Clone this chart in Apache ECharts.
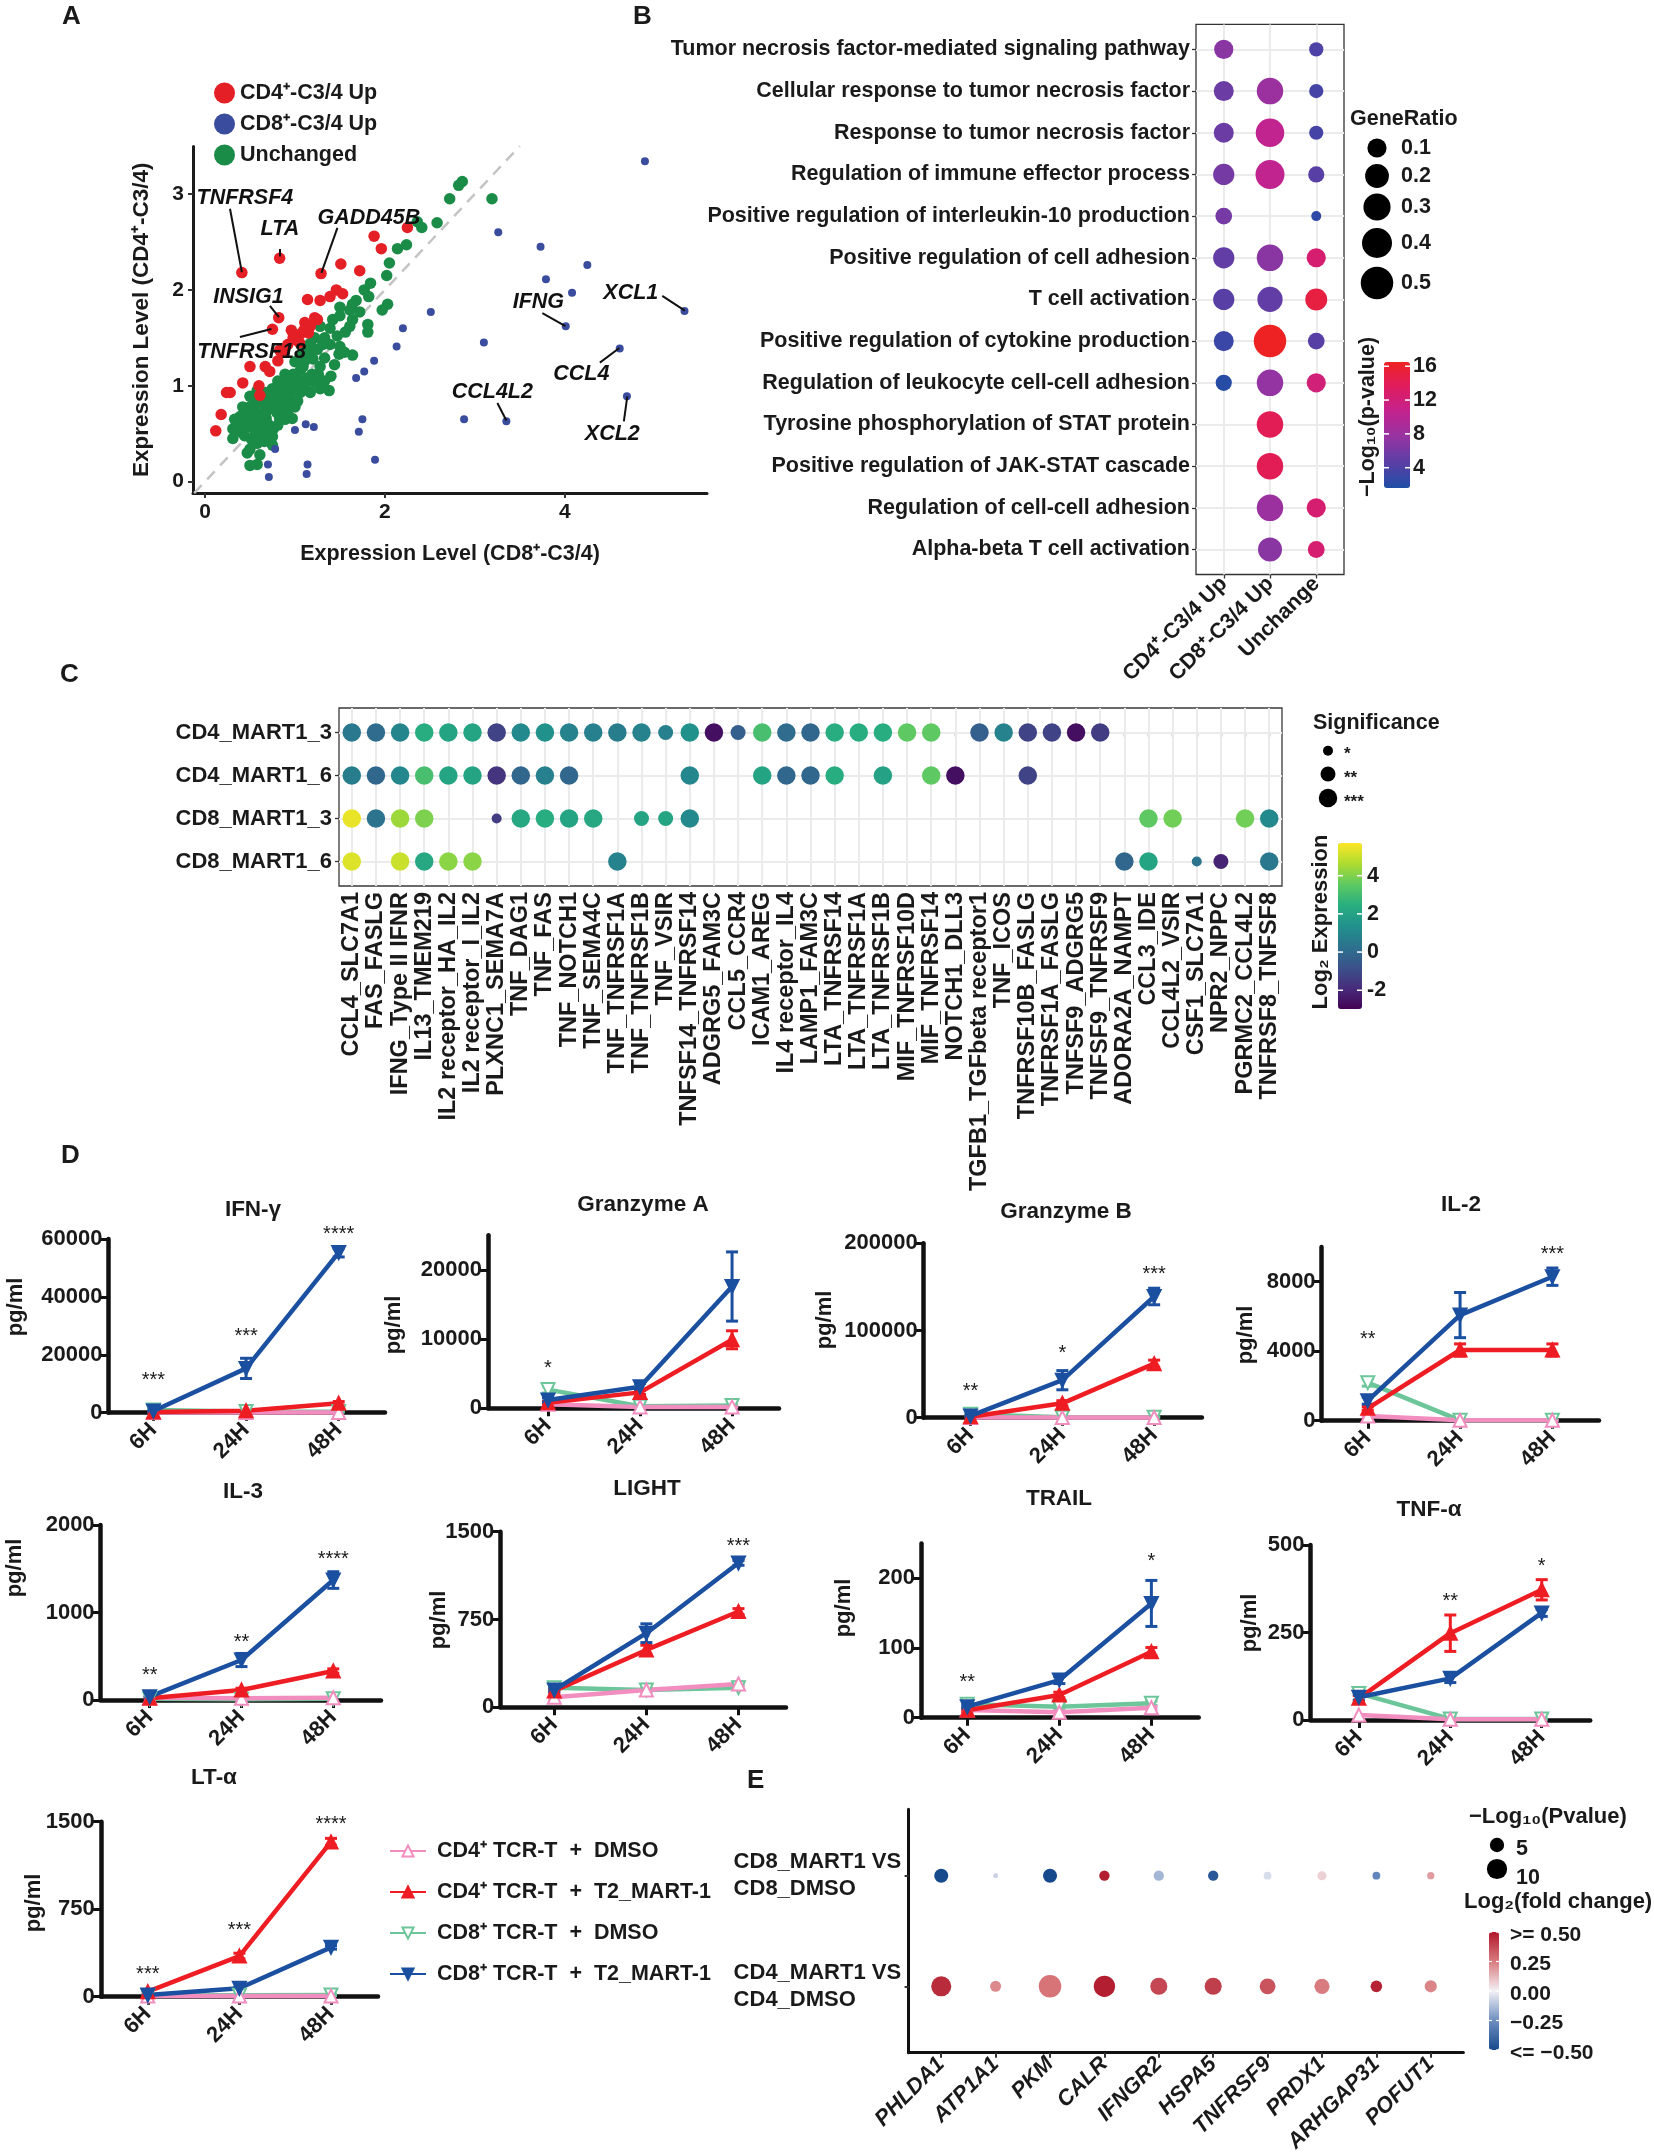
<!DOCTYPE html>
<html>
<head>
<meta charset="utf-8">
<title>TCR-T figure</title>
<script src="https://cdn.jsdelivr.net/npm/echarts@6.0.0/dist/echarts.min.js"></script>
<style>
  html, body { margin: 0; padding: 0; background: #fff; }
  #fig { width: 1654px; height: 2156px; }
</style>
</head>
<body>
<div id="fig"></div>
<script>
// ---------- A : CD8 vs CD4 expression ----------
const aGroups = ['CD4⁺-C3/4 Up', 'CD8⁺-C3/4 Up', 'Unchanged'];
const cd4UpPts = [[0.41,2.18],[0.83,2.33],[1.29,2.17],[2.25,2.65],[1.88,2.56],[1.96,2.43],[1.51,2.27],[1.72,2.20],
  [1.46,2.00],[1.53,1.96],[1.39,1.93],[1.28,1.89],[1.14,1.90],[0.82,1.71],[0.75,1.59],[0.96,1.58],[1.25,1.69],
  [1.17,1.62],[1.06,1.54],[1.00,1.48],[0.92,1.43],[0.83,1.37],[0.81,1.26],[0.50,1.20],[0.42,1.03],[0.60,1.00],
  [0.28,0.93],[0.24,0.93],[0.18,0.70],[0.12,0.53],[0.61,0.90],[0.67,1.20],[1.11,1.66],[1.22,1.71],[1.10,1.58],
  [0.98,1.50],[1.05,1.45],[0.88,1.35],[1.15,1.55],[0.72,1.15]];
const cd8UpPts = [[4.89,3.34],[3.26,2.60],[3.73,2.45],[4.25,2.26],[3.79,2.11],[4.08,1.97],[5.33,1.78],[2.51,1.77],
  [4.01,1.62],[2.20,1.60],[3.10,1.45],[2.13,1.41],[4.61,1.39],[1.88,1.26],[1.77,1.15],[1.68,1.08],[4.69,0.89],
  [2.88,0.65],[3.35,0.63],[1.75,0.65],[1.71,0.52],[1.12,0.60],[1.21,0.57],[1.00,0.54],[0.78,0.34],[1.89,0.23],
  [0.70,0.18],[1.14,0.18],[0.71,0.05],[1.13,0.08]];
const unchangedPts = [[2.86,3.13],[2.82,3.09],[2.72,2.95],[3.19,2.95],[2.58,2.70],[2.41,2.65],[2.36,2.71],[2.24,2.47],
  [2.14,2.43],[2.05,2.28],[2.02,2.15],[1.84,2.07],[1.77,2.00],[2.03,1.85],[1.97,1.79],[1.82,1.93],[1.68,1.89],
  [1.64,1.85],[1.50,1.82],[1.50,1.73],[1.81,1.64],[1.81,1.56],[1.64,1.69],[1.61,1.62],[1.56,1.56],[1.47,1.52],
  [1.28,1.62],[1.39,1.60],[1.31,1.43],[1.50,1.41],[1.49,1.33],[1.64,1.32],[1.33,1.29],[1.22,1.50],[1.17,1.35],
  [1.11,1.26],[1.28,1.20],[1.19,1.12],[1.06,1.16],[1.00,1.08],[1.38,0.95],[0.97,1.01],[0.89,1.12],[0.81,1.05],
  [0.75,0.97],[0.67,0.93],[0.61,0.85],[0.56,0.82],[0.50,0.78],[0.44,0.74],[0.39,0.68],[0.33,0.65],[0.31,0.55],
  [0.31,0.45],[0.44,0.63],[0.53,0.66],[0.61,0.70],[0.69,0.74],[0.78,0.80],[0.86,0.84],[0.94,0.87],[1.00,0.78],
  [0.97,0.66],[0.89,0.65],[0.81,0.59],[0.72,0.55],[0.64,0.53],[0.56,0.51],[0.47,0.57],[0.39,0.59],[0.75,0.47],
  [0.75,0.38],[0.61,0.45],[0.50,0.34],[0.47,0.30],[0.61,0.28],[0.50,0.17],[0.58,0.18],[0.83,0.66],[0.92,0.74],
  [0.83,0.89],[0.72,0.85],[0.64,0.82],[0.56,0.74],[0.50,0.68],[0.42,0.78],[0.50,0.89],[1.17,0.93],[1.11,1.01],
  [1.22,1.03],[1.28,0.97],[1.06,0.93],[0.86,0.93],[0.92,0.97],[0.83,0.97],[0.75,0.91],[1.03,0.84],[1.09,1.20],
  [1.14,1.08],[1.33,1.50],[1.17,1.44],[1.39,1.43],[1.61,1.79],[1.72,1.77],[1.42,1.69],[0.55,0.60],[0.62,0.62],
  [0.68,0.66],[0.70,0.60],[0.58,0.56],[0.66,0.72],[0.74,0.78],[0.80,0.72],[0.86,0.76],[0.90,0.82],[0.95,0.92],
  [1.02,0.98],[1.05,1.05],[0.98,1.12],[0.92,1.05],[0.86,1.00],[0.78,0.95],[0.70,0.88],[0.64,0.90],[0.58,0.95],
  [0.52,0.72],[0.46,0.68],[0.40,0.52],[0.36,0.60],[0.44,0.48],[0.52,0.44],[0.58,0.40],[0.66,0.42],[0.70,0.48],
  [0.76,0.55],[1.00,1.25],[1.08,1.32],[1.12,1.40],[1.25,1.38],[1.20,1.28],[1.26,1.12],[1.33,1.05],[1.44,1.22],
  [1.55,1.35],[1.40,1.10]];
// gene, point x, point y, leader start x, y, text x, y
const geneLabels = [
  ['TNFRSF4', 0.41, 2.185, 0.278, 2.846, 0.444, 2.96],
  ['LTA', 0.833, 2.349, 0.833, 2.425, 0.833, 2.636],
  ['GADD45B', 1.294, 2.177, 1.472, 2.647, 1.822, 2.75],
  ['INSIG1', 0.822, 1.715, 0.722, 1.833, 0.483, 1.921],
  ['TNFRSF18', 0.739, 1.593, 0.389, 1.509, 0.517, 1.348],
  ['IFNG', 4.006, 1.623, 3.75, 1.757, 3.706, 1.872],
  ['XCL1', 5.333, 1.784, 5.083, 1.937, 4.733, 1.967],
  ['CCL4', 4.606, 1.394, 4.389, 1.241, 4.183, 1.119],
  ['CCL4L2', 3.35, 0.638, 3.25, 0.821, 3.194, 0.936],
  ['XCL2', 4.694, 0.89, 4.656, 0.63, 4.528, 0.497]
];

// ---------- B : GO enrichment ----------
const goTerms = ['Tumor necrosis factor-mediated signaling pathway', 'Cellular response to tumor necrosis factor',
  'Response to tumor necrosis factor', 'Regulation of immune effector process',
  'Positive regulation of interleukin-10 production', 'Positive regulation of cell adhesion', 'T cell activation',
  'Positive regulation of cytokine production', 'Regulation of leukocyte cell-cell adhesion',
  'Tyrosine phosphorylation of STAT protein', 'Positive regulation of JAK-STAT cascade',
  'Regulation of cell-cell adhesion', 'Alpha-beta T cell activation'];
const goGroups = ['CD4⁺-C3/4 Up', 'CD8⁺-C3/4 Up', 'Unchange'];
const goRatio = [[0.10,null,0.037],[0.115,0.278,0.037],[0.115,0.344,0.037],[0.14,0.36,0.056],[0.064,null,0.02],
  [0.14,0.278,0.10],[0.14,0.24,0.155],[0.115,0.50,0.064],[0.056,0.278,0.10],[null,0.278,null],[null,0.278,null],
  [null,0.278,0.10],[null,0.206,0.064]];
const goLogP = [[7,null,4],[5.5,8,3.5],[5.5,10.5,3.5],[6,10.5,4.5],[6,null,2.5],[5,7,12.5],[4.5,5,15],
  [3,16.5,4.5],[2,7.5,12],[null,14,null],[null,14,null],[null,8,12.5],[null,7,12.5]];
const goRatioKeys = [0.1, 0.2, 0.3, 0.4, 0.5];
const goPTicks = [16, 12, 8, 4];

// ---------- C : ligand-receptor pairs ----------
const lrPairs = ['CCL4_SLC7A1','FAS_FASLG','IFNG_Type II IFNR','IL13_TMEM219','IL2 receptor_HA_IL2',
  'IL2 receptor_I_IL2','PLXNC1_SEMA7A','TNF_DAG1','TNF_FAS','TNF_NOTCH1','TNF_SEMA4C','TNF_TNFRSF1A',
  'TNF_TNFRSF1B','TNF_VSIR','TNFSF14_TNFRSF14','ADGRG5_FAM3C','CCL5_CCR4','ICAM1_AREG','IL4 receptor_IL4',
  'LAMP1_FAM3C','LTA_TNFRSF14','LTA_TNFRSF1A','LTA_TNFRSF1B','MIF_TNFRSF10D','MIF_TNFRSF14','NOTCH1_DLL3',
  'TGFB1_TGFbeta receptor1','TNF_ICOS','TNFRSF10B_FASLG','TNFRSF1A_FASLG','TNFSF9_ADGRG5','TNFSF9_TNFRSF9',
  'ADORA2A_NAMPT','CCL3_IDE','CCL4L2_VSIR','CSF1_SLC7A1','NPR2_NPPC','PGRMC2_CCL4L2','TNFRSF8_TNFSF8'];
const lrSamples = ['CD4_MART1_3','CD4_MART1_6','CD8_MART1_3','CD8_MART1_6'];
const lrExpr = [
  [0.50,0.06,0.93,2.41,2.06,2.06,-1.24,1.10,1.37,0.84,0.76,0.67,0.84,0.76,1.37,-2.63,-0.37,3.10,0.06,-0.11,
   2.41,2.41,2.41,3.54,3.54,null,-0.37,0.84,-1.24,-1.24,-2.63,-1.42,null,null,null,null,null,null,null],
  [0.67,-0.11,1.02,3.10,2.06,2.06,-1.68,-0.11,0.76,-0.11,null,null,null,null,1.02,null,null,2.06,-0.11,-0.11,
   2.41,null,1.97,null,3.54,-2.63,null,null,-1.24,null,null,null,null,null,null,null,null,null,null],
  [5.45,0.32,4.41,3.97,null,null,-1.42,2.23,2.41,2.06,2.23,null,2.06,2.06,1.10,null,null,null,null,null,
   null,null,null,null,null,null,null,null,null,null,null,null,null,3.54,3.80,null,null,3.80,1.10],
  [5.28,null,5.00,2.23,4.15,4.15,null,null,null,null,null,0.84,null,null,null,null,null,null,null,null,
   null,null,null,null,null,null,null,null,null,null,null,null,-0.11,2.06,null,0.32,-2.11,null,0.50]
];
// [sample row, pair col, level] where significance is below ***
const lrSigLow = [[0,13,2],[0,16,2],[2,6,1],[2,12,2],[2,13,2],[3,35,1],[3,36,2]];
const lrSigNames = ['*', '**', '***'];
const lrExprTicks = [4, 2, 0, -2];

// ---------- D : cytokines ----------
const timePoints = ['6H', '24H', '48H'];
const groupNames = ['CD4⁺ TCR-T  +  DMSO', 'CD4⁺ TCR-T  +  T2_MART-1', 'CD8⁺ TCR-T  +  DMSO', 'CD8⁺ TCR-T  +  T2_MART-1'];
const cytokines = ['IFN-γ', 'Granzyme A', 'Granzyme B', 'IL-2', 'IL-3', 'LIGHT', 'TRAIL', 'TNF-α', 'LT-α'];
// rows: CD4 DMSO, CD4 MART-1, CD8 DMSO, CD8 MART-1 ; cols: 6H, 24H, 48H
const ifngMean = [[100,50,50],[200,700,3250],[900,400,300],[600,15300,55300]];
const ifngErr  = [[0,0,0],[100,150,600],[400,100,100],[300,3500,1500]];
const ifngStars = [[0,13000,'***'],[1,28000,'***'],[2,63200,'****']];
const gzaMean = [[600,200,200],[800,2300,9900],[2700,300,400],[1200,3100,17600]];
const gzaErr  = [[100,50,50],[200,300,1300],[500,100,100],[300,500,5000]];
const gzaStars = [[0,6500,'*']];
const gzbMean = [[300,300,300],[1000,16500,62000],[4000,600,600],[2000,43000,139000]];
const gzbErr  = [[0,0,0],[500,3000,4000],[1000,200,200],[1000,11000,9500]];
const gzbStars = [[0,35500,'**'],[1,79600,'*'],[2,169400,'***']];
const il2Mean = [[270,20,20],[710,4070,4070],[2190,20,20],[1150,6080,8290]];
const il2Err  = [[50,5,5],[100,350,350],[200,10,10],[200,1300,500]];
const il2Stars = [[0,4960,'**'],[2,9830,'***']];
const il3Mean = [[25,20,25],[20,114,331],[15,10,15],[38,457,1371]];
const il3Err  = [[0,0,0],[5,20,25],[0,0,0],[10,75,95]];
const il3Stars = [[0,335,'**'],[1,712,'**'],[2,1665,'****']];
const lightMean = [[86,148,200],[140,490,818],[168,148,168],[148,633,1233]];
const lightErr  = [[15,15,15],[15,40,25],[15,15,15],[15,80,20]];
const lightStars = [[2,1418,'***']];
const trailMean = [[11,7.7,14.4],[10.6,32.6,94.7],[19.2,15.8,20.7],[15.8,54,164]];
const trailErr  = [[2,2,2],[2,4,6],[3,3,3],[2,5,33]];
const trailStars = [[0,58,'**'],[2,231,'*']];
const tnfMean = [[14,2,2],[62,248,372],[76,3,3],[65,119,306]];
const tnfErr  = [[0,0,0],[8,52,29],[5,2,2],[8,12,10]];
const tnfStars = [[1,353,'**'],[2,453,'*']];
const ltaMean = [[5,5,5],[43,348,1327],[10,12,15],[15,72,423]];
const ltaErr  = [[0,0,0],[8,25,30],[5,5,5],[5,10,15]];
const ltaStars = [[0,235,'***'],[1,614,'***'],[2,1519,'****']];
const dTicks = [[0,20000,40000,60000],[0,10000,20000],[0,100000,200000],[0,4000,8000],[0,1000,2000],
  [0,750,1500],[0,100,200],[0,250,500],[0,750,1500]];
const dMax = [60000, 25000, 200000, 10000, 2000, 1500, 250, 500, 1500];

// ---------- E : DEG dot plot ----------
const degGenes = ['PHLDA1','ATP1A1','PKM','CALR','IFNGR2','HSPA5','TNFRSF9','PRDX1','ARHGAP31','POFUT1'];
const degContrasts = ['CD4_MART1 VS\nCD4_DMSO', 'CD8_MART1 VS\nCD8_DMSO'];
const degLogP = [[9.8,2.95,12.4,11.1,7.1,7.1,6.1,5.6,3.3,3.6],[4.8,0.6,4.8,2.6,2.6,2.6,1.5,2.0,1.5,1.3]];
const degLfc = [[0.45,0.22,0.27,0.48,0.38,0.40,0.35,0.25,0.47,0.23],[-0.5,-0.08,-0.5,0.48,-0.15,-0.45,-0.05,0.07,-0.28,0.18]];
const degPKeys = [5, 10];
const degLfcTicks = [[0.5,'>= 0.50'],[0.25,'0.25'],[0,'0.00'],[-0.25,'−0.25'],[-0.5,'<= −0.50']];

// ================= build =================
const FONT = '"Liberation Sans", Arial, sans-serif';
const INK = '#1a1a1a';
const grids = [], xAxes = [], yAxes = [], series = [], gfx = [];

function addGrid(l, t, r, b, extra) {
  grids.push(Object.assign({left: l, top: t, width: r - l, height: b - t, containLabel: false, outerBoundsMode: 'none'}, extra || {}));
  return grids.length - 1;
}
function T(x, y, text, o) {
  o = o || {};
  gfx.push({type: 'text', x: x, y: y, rotation: o.rot || 0, silent: true, z: 50,
    style: {text: text, fill: o.color || INK, fontFamily: FONT, fontSize: o.size || 21.5,
      fontWeight: o.weight || 'bold', fontStyle: o.italic ? 'italic' : 'normal',
      align: o.align || 'center', verticalAlign: o.va || 'middle'}});
}
function C(cx, cy, r, fill) {
  gfx.push({type: 'circle', silent: true, z: 50, shape: {cx: cx, cy: cy, r: r}, style: {fill: fill || '#000'}});
}
function L(x1, y1, x2, y2, stroke, w) {
  gfx.push({type: 'line', silent: true, z: 60, shape: {x1: x1, y1: y1, x2: x2, y2: y2}, style: {stroke: stroke, lineWidth: w || 1.5}});
}
const lbl = (size, extra) => Object.assign({fontFamily: FONT, fontWeight: 'bold', fontSize: size, color: INK}, extra || {});
const gridLines = (xs, ys) => ({silent: true, symbol: ['none', 'none'], z: 1, animation: false,
  label: {show: false}, emphasis: {disabled: true},
  lineStyle: {color: '#ebebeb', width: 2, type: 'solid'},
  data: xs.map(v => ({xAxis: v})).concat(ys.map(v => ({yAxis: v})))});
const plainNum = v => String(v);
// text placed at data coordinates through the axes of grid gi
function textSeries(gi, items, font, dy) {
  return {type: 'custom', xAxisIndex: gi, yAxisIndex: gi, z: 6, clip: false, silent: true,
    data: items.map(it => it[1]),
    renderItem: function (params, api) {
      const p = api.coord([api.value(0), api.value(1)]);
      return {type: 'text', x: p[0], y: p[1] + (dy || 0),
        style: Object.assign({text: items[params.dataIndex][0], fill: INK, fontFamily: FONT,
          align: 'center', verticalAlign: 'middle'}, font)};
    }};
}

// ---- A ----
const gA = addGrid(193, 146.5, 707, 493);
xAxes.push({gridIndex: gA, type: 'value', min: -0.133, max: 5.58,
  axisLine: {onZero: false, lineStyle: {color: INK, width: 3}},
  axisTick: {customValues: [0, 2, 4], length: 5, lineStyle: {color: '#333', width: 2}},
  axisLabel: Object.assign({customValues: [0, 2, 4], margin: 9}, lbl(21)),
  splitLine: {show: false},
  name: 'Expression Level (CD8⁺-C3/4)', nameLocation: 'middle', nameGap: 50, nameTextStyle: lbl(21.5)});
yAxes.push({gridIndex: gA, type: 'value', min: -0.118, max: 3.495,
  axisLine: {onZero: false, lineStyle: {color: INK, width: 3}},
  axisTick: {customValues: [0, 1, 2, 3], length: 5, lineStyle: {color: '#333', width: 2}},
  axisLabel: Object.assign({customValues: [0, 1, 2, 3], margin: 9}, lbl(21)),
  splitLine: {show: false},
  name: 'Expression Level (CD4⁺-C3/4)', nameLocation: 'middle', nameGap: 40, nameTextStyle: lbl(22.5)});
series.push({type: 'line', xAxisIndex: gA, yAxisIndex: gA, data: [[-0.12, -0.12], [3.5, 3.5]], symbol: 'none',
  silent: true, z: 1, lineStyle: {color: '#c4c4c4', width: 2.5, type: [11, 8]}});
series.push({type: 'scatter', name: aGroups[2], xAxisIndex: gA, yAxisIndex: gA, data: unchangedPts, symbolSize: 11.5,
  itemStyle: {color: '#1b8c47', opacity: 1}, z: 2});
series.push({type: 'scatter', name: aGroups[0], xAxisIndex: gA, yAxisIndex: gA, data: cd4UpPts, symbolSize: 11.5,
  itemStyle: {color: '#e41f25', opacity: 1}, z: 3});
series.push({type: 'scatter', name: aGroups[1], xAxisIndex: gA, yAxisIndex: gA, data: cd8UpPts, symbolSize: 8,
  itemStyle: {color: '#3a4c9e', opacity: 1}, z: 4});
series.push({type: 'lines', coordinateSystem: 'cartesian2d', xAxisIndex: gA, yAxisIndex: gA, z: 5, silent: true,
  data: geneLabels.map(g => ({coords: [[g[3], g[4]], [g[1], g[2]]]})),
  lineStyle: {color: '#111', width: 2, opacity: 1, curveness: 0}});
series.push(textSeries(gA, geneLabels.map(g => [g[0], [g[5], g[6]]]),
  {fontSize: 21.5, fontWeight: 'bold', fontStyle: 'italic', fill: '#111'}));

// ---- B ----
const goSize = r => 10 + 22.5 * Math.sqrt(Math.max(0, r - 0.02) / 0.48);
const gB = addGrid(1196, 24.4, 1344, 574.5, {show: true, borderColor: '#333', borderWidth: 1.3, backgroundColor: '#fff'});
xAxes.push({gridIndex: gB, type: 'value', min: 0.4, max: 3.6,
  axisLine: {show: false}, splitLine: {show: false},
  axisTick: {customValues: [1, 2, 3], length: 4, lineStyle: {color: '#333', width: 1.3}},
  axisLabel: Object.assign({customValues: [1, 2, 3], rotate: 45, margin: 6, formatter: v => goGroups[v - 1]}, lbl(21.5))});
yAxes.push({gridIndex: gB, type: 'value', min: 0.4, max: 13.6, inverse: true,
  axisLine: {show: false, onZero: false}, splitLine: {show: false},
  axisTick: {customValues: goTerms.map((t, i) => i + 1), length: 4, lineStyle: {color: '#333', width: 1.3}},
  axisLabel: Object.assign({customValues: goTerms.map((t, i) => i + 1), margin: 6, formatter: v => goTerms[v - 1]}, lbl(21.5))});
const goData = [];
goTerms.forEach((t, i) => goGroups.forEach((g, j) => {
  if (goRatio[i][j] != null) goData.push([j + 1, i + 1, goRatio[i][j], goLogP[i][j]]);
}));
const sB = series.length;
series.push({type: 'scatter', xAxisIndex: gB, yAxisIndex: gB, data: goData, z: 3,
  symbolSize: v => goSize(v[2]), itemStyle: {opacity: 1},
  markLine: gridLines([1, 2, 3], goTerms.map((t, i) => i + 1))});
T(1350, 119, 'GeneRatio', {align: 'left'});
const goKeyY = [148, 176, 207, 243, 283];
goRatioKeys.forEach((r, i) => { C(1377, goKeyY[i], goSize(r) / 2); T(1401, goKeyY[i], String(r), {align: 'left'}); });
const bBar = {top: 362, h: 126, min: 1.6, max: 16.5};
goPTicks.forEach(v => {
  const y = bBar.top + bBar.h * (bBar.max - v) / (bBar.max - bBar.min);
  T(1413, y, String(v), {align: 'left'});
  L(1384, y, 1389, y, '#fff', 1.5); L(1405, y, 1410, y, '#fff', 1.5);
});
T(1368, 417, '−Log₁₀(p-value)', {rot: Math.PI / 2, size: 21.5});

// ---- C ----
const gC = addGrid(339, 708, 1282, 886, {show: true, borderColor: '#3a3a3a', borderWidth: 1.3, backgroundColor: '#fff'});
xAxes.push({gridIndex: gC, type: 'value', min: -0.53, max: 38.53,
  axisLine: {show: false}, splitLine: {show: false},
  axisTick: {customValues: lrPairs.map((p, i) => i), length: 4, lineStyle: {color: '#333', width: 1.3}},
  axisLabel: Object.assign({customValues: lrPairs.map((p, i) => i), rotate: 90, margin: 6, formatter: v => lrPairs[v]}, lbl(23.5))});
yAxes.push({gridIndex: gC, type: 'value', min: -0.57, max: 3.57, inverse: true,
  axisLine: {show: false, onZero: false}, splitLine: {show: false},
  axisTick: {customValues: [0, 1, 2, 3], length: 4, lineStyle: {color: '#333', width: 1.3}},
  axisLabel: Object.assign({customValues: [0, 1, 2, 3], margin: 7, formatter: v => lrSamples[v]}, lbl(22))});
const sigSize = [0, 10, 15, 18.5];
const lrData = [];
lrSamples.forEach((s, r) => lrPairs.forEach((p, c) => {
  if (lrExpr[r][c] == null) return;
  const low = lrSigLow.find(e => e[0] === r && e[1] === c);
  lrData.push([c, r, lrExpr[r][c], low ? low[2] : 3]);
}));
const sC = series.length;
series.push({type: 'scatter', xAxisIndex: gC, yAxisIndex: gC, data: lrData, z: 3,
  symbolSize: v => sigSize[v[3]], itemStyle: {opacity: 1},
  markLine: gridLines(lrPairs.map((p, i) => i), [0, 1, 2, 3])});
T(1313, 723, 'Significance', {align: 'left'});
[750.7, 774, 798].forEach((y, i) => { C(1328, y, sigSize[i + 1] / 2); T(1344, y + 4, lrSigNames[i], {align: 'left', size: 17}); });
const cBar = {top: 843, h: 166, min: -2.98, max: 5.71};
lrExprTicks.forEach(v => {
  const y = cBar.top + cBar.h * (cBar.max - v) / (cBar.max - cBar.min);
  T(1367, y, String(v), {align: 'left'});
  L(1338, y, 1343, y, '#fff', 1.5); L(1357, y, 1362, y, '#fff', 1.5);
});
T(1321, 922, 'Log₂ Expression', {rot: Math.PI / 2, size: 22});

// ---- D ----
const dBoxes = [[108.5,1239,385,1412.7],[488,1235.3,779,1408.3],[923.7,1243.3,1201.9,1417.7],[1321.6,1247,1599,1420.7],
  [100.6,1525,381,1700],[500.3,1531.7,786,1707.3],[921,1543.5,1198.7,1717.7],[1310.4,1545,1590.2,1720],
  [100.8,1821.7,378,1996.7]];
const dXRange = [[-0.485,2.5],[-0.652,2.51],[-0.51,2.52],[-0.5,2.505],[-0.535,2.52],[-0.586,2.516],[-0.503,2.514],[-0.53,2.53],[-0.513,2.513]];
const dTitlePos = [[253,1210],[643,1205],[1066,1212],[1461,1205],[243,1492],[647,1489],[1059,1499],[1429,1510],[214,1778]];
const dYLabPos = [[16,1307],[394,1325],[825,1320],[1246,1335],[15,1568],[439,1620],[844,1608],[1250,1623],[34,1903]];
const dMeans = [ifngMean, gzaMean, gzbMean, il2Mean, il3Mean, lightMean, trailMean, tnfMean, ltaMean];
const dErrs = [ifngErr, gzaErr, gzbErr, il2Err, il3Err, lightErr, trailErr, tnfErr, ltaErr];
const dStars = [ifngStars, gzaStars, gzbStars, il2Stars, il3Stars, lightStars, trailStars, tnfStars, ltaStars];
const gStyle = [
  {color: '#f28dbf', symbol: 'emptyTriangle', rot: 0},
  {color: '#ee1d23', symbol: 'triangle', rot: 0},
  {color: '#6cc69a', symbol: 'emptyTriangle', rot: 180},
  {color: '#1b4fa0', symbol: 'triangle', rot: 180}
];
const drawOrder = [2, 0, 1, 3];
function errSeries(gi, color, data) {
  return {type: 'custom', xAxisIndex: gi, yAxisIndex: gi, z: 2, clip: false, silent: true, data: data,
    renderItem: function (params, api) {
      const a = api.coord([api.value(0), api.value(1)]);
      const b = api.coord([api.value(0), api.value(2)]);
      const st = {stroke: color, lineWidth: 3};
      return {type: 'group', children: [
        {type: 'line', shape: {x1: a[0], y1: a[1], x2: b[0], y2: b[1]}, style: st},
        {type: 'line', shape: {x1: a[0] - 6, y1: a[1], x2: a[0] + 6, y2: a[1]}, style: st},
        {type: 'line', shape: {x1: b[0] - 6, y1: b[1], x2: b[0] + 6, y2: b[1]}, style: st}]};
    }};
}
cytokines.forEach((name, p) => {
  const bx = dBoxes[p];
  const g = addGrid(bx[0], bx[1], bx[2], bx[3]);
  xAxes.push({gridIndex: g, type: 'value', min: dXRange[p][0], max: dXRange[p][1],
    axisLine: {onZero: false, lineStyle: {color: '#111', width: 4.5}},
    axisTick: {customValues: [0, 1, 2], length: 8, lineStyle: {color: '#111', width: 3}},
    axisLabel: Object.assign({customValues: [0, 1, 2], rotate: 45, margin: 14, formatter: v => timePoints[v]}, lbl(22)),
    splitLine: {show: false}});
  yAxes.push({gridIndex: g, type: 'value', min: 0, max: dMax[p],
    axisLine: {show: true, onZero: false, lineStyle: {color: '#111', width: 4.5}},
    axisTick: {show: true, customValues: dTicks[p], length: 8, lineStyle: {color: '#111', width: 3}},
    axisLabel: Object.assign({customValues: dTicks[p], margin: 6, formatter: plainNum}, lbl(22)),
    splitLine: {show: false}});
  drawOrder.forEach(k => {
    const m = dMeans[p][k], e = dErrs[p][k], s = gStyle[k];
    const eb = m.map((v, i) => [i, Math.max(0, v - e[i]), v + e[i]]).filter(d => d[2] - d[1] > 0);
    series.push(errSeries(g, s.color, eb));
    series.push({type: 'line', name: groupNames[k], xAxisIndex: g, yAxisIndex: g, z: 3, clip: false,
      data: m.map((v, i) => [i, v]), symbol: s.symbol, symbolSize: 13, symbolRotate: s.rot,
      lineStyle: {color: s.color, width: 4.5}, itemStyle: {color: s.color, borderColor: s.color, borderWidth: 2}});
  });
  series.push(textSeries(g, dStars[p].map(s => [s[2], [s[0], s[1]]]),
    {fontSize: 20, fontWeight: 'normal', fill: '#1a1a1a'}, 5));
  T(dTitlePos[p][0], dTitlePos[p][1], name, {size: 22.5});
  T(dYLabPos[p][0], dYLabPos[p][1], 'pg/ml', {rot: Math.PI / 2, size: 22});
});

// ---- E ----
const degSize = v => 6.4 * Math.sqrt(v);
const gE = addGrid(908.6, 1809.3, 1463.4, 2052.7);
xAxes.push({gridIndex: gE, type: 'value', min: -0.6, max: 9.6,
  axisLine: {onZero: false, lineStyle: {color: '#111', width: 3}}, splitLine: {show: false},
  axisTick: {customValues: degGenes.map((g, i) => i), length: 5, lineStyle: {color: '#333', width: 2}},
  axisLabel: Object.assign({customValues: degGenes.map((g, i) => i), rotate: 45, margin: 8,
    formatter: v => degGenes[v]}, lbl(22, {fontStyle: 'italic'}))});
yAxes.push({gridIndex: gE, type: 'value', min: -0.6, max: 1.6,
  axisLine: {onZero: false, lineStyle: {color: '#111', width: 3}}, splitLine: {show: false},
  axisTick: {customValues: [0, 1], length: 4, lineStyle: {color: '#333', width: 2}},
  axisLabel: Object.assign({customValues: [0, 1], margin: 175, align: 'left', lineHeight: 27,
    formatter: v => degContrasts[v]}, lbl(22))});
const degData = [];
degContrasts.forEach((c, r) => degGenes.forEach((g, j) => degData.push([j, r, degLogP[r][j], degLfc[r][j]])));
const sE = series.length;
series.push({type: 'scatter', xAxisIndex: gE, yAxisIndex: gE, data: degData, z: 3,
  symbolSize: v => degSize(v[2]), itemStyle: {opacity: 1}});
T(1469, 1817, '−Log₁₀(Pvalue)', {align: 'left', size: 22});
C(1497, 1845, degSize(degPKeys[0]) / 2); T(1516, 1849, String(degPKeys[0]), {align: 'left'});
C(1497, 1869, degSize(degPKeys[1]) / 2); T(1516, 1878, String(degPKeys[1]), {align: 'left'});
T(1464, 1902, 'Log₂(fold change)', {align: 'left', size: 22});
const eBar = {top: 1932, h: 118, min: -0.5, max: 0.5};
degLfcTicks.forEach(t => {
  const y = eBar.top + eBar.h * (eBar.max - t[0]) / (eBar.max - eBar.min);
  T(1510, y + 3, t[1], {align: 'left', size: 21});
  L(1489, y, 1492, y, '#fff', 1.2); L(1496, y, 1499, y, '#fff', 1.2);
});

// ---- panel letters ----
T(62, 17, 'A', {align: 'left', size: 26});
T(633, 17, 'B', {align: 'left', size: 26});
T(60, 675, 'C', {align: 'left', size: 26});
T(61, 1156, 'D', {align: 'left', size: 26});
T(747, 1781, 'E', {align: 'left', size: 26});

const vmBase = {type: 'continuous', calculable: false, orient: 'vertical', padding: 0, hoverLink: false, text: null};
const option = {
  animation: false,
  backgroundColor: '#ffffff',
  textStyle: {fontFamily: FONT},
  grid: grids,
  xAxis: xAxes,
  yAxis: yAxes,
  series: series,
  visualMap: [
    Object.assign({}, vmBase, {seriesIndex: sB, dimension: 3, min: bBar.min, max: bBar.max,
      inRange: {color: ['#1f4ea6', '#5a3fa6', '#9434a2', '#c2238f', '#e01c60', '#ee2222']},
      left: 1384, top: bBar.top, itemWidth: 26, itemHeight: bBar.h}),
    Object.assign({}, vmBase, {seriesIndex: sC, dimension: 2, min: cBar.min, max: cBar.max,
      inRange: {color: ['#440154', '#472d7b', '#3b528b', '#2c728e', '#21918c', '#28ae80', '#5ec962', '#addc30', '#fde725']},
      left: 1338, top: cBar.top, itemWidth: 24, itemHeight: cBar.h}),
    Object.assign({}, vmBase, {seriesIndex: sE, dimension: 3, min: eBar.min, max: eBar.max,
      inRange: {color: ['#174a8c', '#6e8fc1', '#f3f1f5', '#d97c7f', '#b0172a']},
      left: 1489, top: eBar.top, itemWidth: 10, itemHeight: eBar.h})
  ],
  legend: [
    {data: [aGroups[0], aGroups[1], aGroups[2]], left: 209, top: 77, orient: 'vertical', icon: 'circle',
      itemWidth: 21, itemHeight: 21, itemGap: 9, selectedMode: false,
      textStyle: lbl(21.5, {lineHeight: 21})},
    {data: groupNames, left: 384, top: 1835, orient: 'vertical', itemWidth: 36, itemHeight: 14, itemGap: 19,
      selectedMode: false, textStyle: lbl(21.5, {lineHeight: 22, padding: [0, 0, 0, 6]})}
  ],
  graphic: {elements: gfx}
};

const chart = echarts.init(document.getElementById('fig'), null, {renderer: 'canvas', width: 1654, height: 2156});
chart.setOption(option);
</script>
</body>
</html>
